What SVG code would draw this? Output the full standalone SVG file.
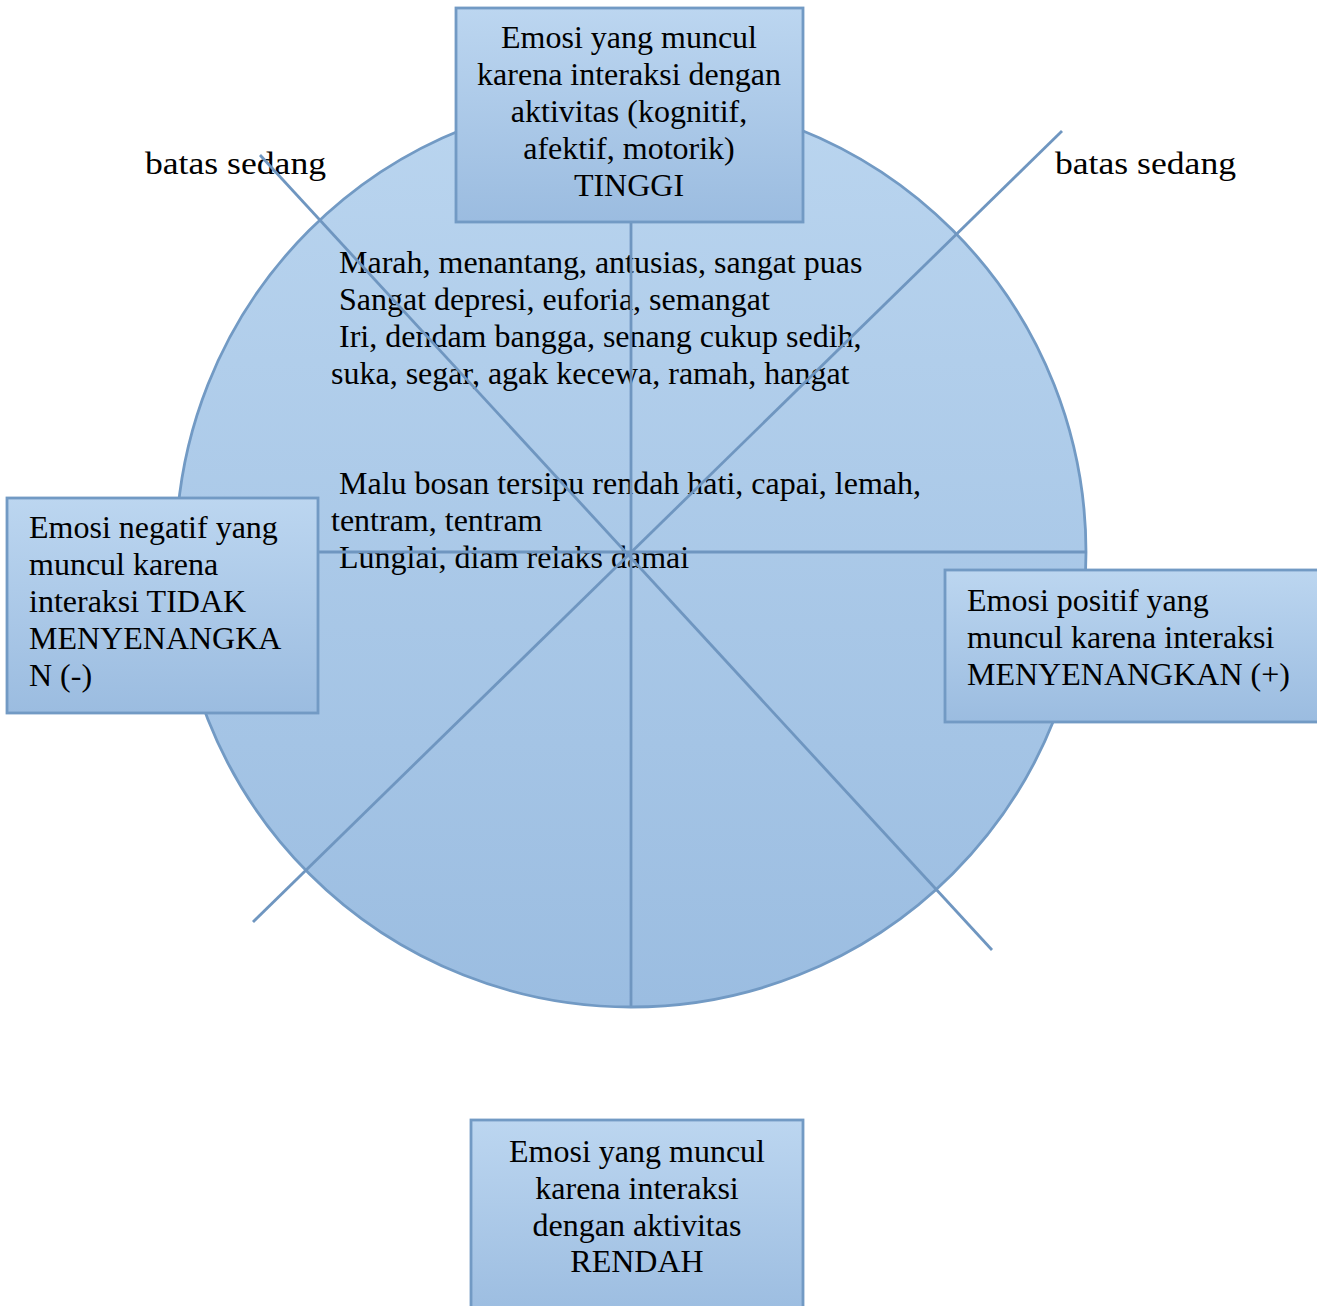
<svg xmlns="http://www.w3.org/2000/svg" width="1317" height="1306" viewBox="0 0 1317 1306">
  <defs>
    <linearGradient id="fillGrad" x1="0" y1="0" x2="0" y2="1">
      <stop offset="0" stop-color="#bcd6f0"/>
      <stop offset="1" stop-color="#9bbce0"/>
    </linearGradient>
    <linearGradient id="circleGrad" x1="0" y1="0" x2="0" y2="1">
      <stop offset="0" stop-color="#bad5ef"/>
      <stop offset="1" stop-color="#9bbde1"/>
    </linearGradient>
  </defs>
  <style>
    .box { fill: url(#fillGrad); stroke: #729ac4; stroke-width: 2.8; }
    .wheel { fill: url(#circleGrad); stroke: #729ac4; stroke-width: 2.8; }
    .axis { stroke: #6f96c0; stroke-width: 2.8; fill: none; }
    text { font-family: "Liberation Serif", "Times New Roman", serif; font-size: 32px; fill: #000; }
    .mid { text-anchor: middle; }
  </style>

  <rect width="1317" height="1306" fill="#ffffff"/>

  <!-- emotion wheel -->
  <circle class="wheel" cx="631" cy="552" r="455"/>

  <!-- emotion words inside the wheel -->
  <g id="emotion-words">
    <text x="339" y="273">Marah, menantang, antusias, sangat puas</text>
    <text x="339" y="310">Sangat depresi, euforia, semangat</text>
    <text x="339" y="347">Iri, dendam bangga, senang cukup sedih,</text>
    <text x="331" y="384">suka, segar, agak kecewa, ramah, hangat</text>
    <text x="339" y="494">Malu bosan tersipu rendah hati, capai, lemah,</text>
    <text x="331" y="531">tentram, tentram</text>
    <text x="339" y="568">Lunglai, diam relaks damai</text>
  </g>

  <!-- border labels -->
  <g id="label-left">
    <text x="145" y="174" textLength="181" lengthAdjust="spacingAndGlyphs">batas sedang</text>
  </g>
  <g id="label-right">
    <text x="1055" y="174" textLength="181" lengthAdjust="spacingAndGlyphs">batas sedang</text>
  </g>

  <!-- dividing axes -->
  <g id="connectors">
    <line class="axis" x1="631" y1="100" x2="631" y2="1006"/>
    <line class="axis" x1="300" y1="552" x2="1087" y2="552"/>
    <line class="axis" x1="260" y1="155" x2="992" y2="950"/>
    <line class="axis" x1="1062" y1="131" x2="253" y2="922"/>
  </g>

  <!-- high activity -->
  <g id="node-top">
    <rect class="box" x="456" y="8" width="347" height="214"/>
    <text class="mid" x="629" y="48">Emosi yang muncul</text>
    <text class="mid" x="629" y="85">karena interaksi dengan</text>
    <text class="mid" x="629" y="122">aktivitas (kognitif,</text>
    <text class="mid" x="629" y="159">afektif, motorik)</text>
    <text class="mid" x="629" y="196">TINGGI</text>
  </g>

  <!-- negative -->
  <g id="node-left">
    <rect class="box" x="7" y="498" width="311" height="215"/>
    <text x="29" y="538">Emosi negatif yang</text>
    <text x="29" y="575">muncul karena</text>
    <text x="29" y="612">interaksi TIDAK</text>
    <text x="29" y="649">MENYENANGKA</text>
    <text x="29" y="686">N (-)</text>
  </g>

  <!-- positive -->
  <g id="node-right">
    <rect class="box" x="945" y="570" width="380" height="152"/>
    <text x="967" y="611">Emosi positif yang</text>
    <text x="967" y="648">muncul karena interaksi</text>
    <text x="967" y="685">MENYENANGKAN (+)</text>
  </g>

  <!-- low activity -->
  <g id="node-bottom">
    <rect class="box" x="471" y="1120" width="332" height="200"/>
    <text class="mid" x="637" y="1162">Emosi yang muncul</text>
    <text class="mid" x="637" y="1199">karena interaksi</text>
    <text class="mid" x="637" y="1236">dengan aktivitas</text>
    <text class="mid" x="637" y="1272">RENDAH</text>
  </g>
</svg>
